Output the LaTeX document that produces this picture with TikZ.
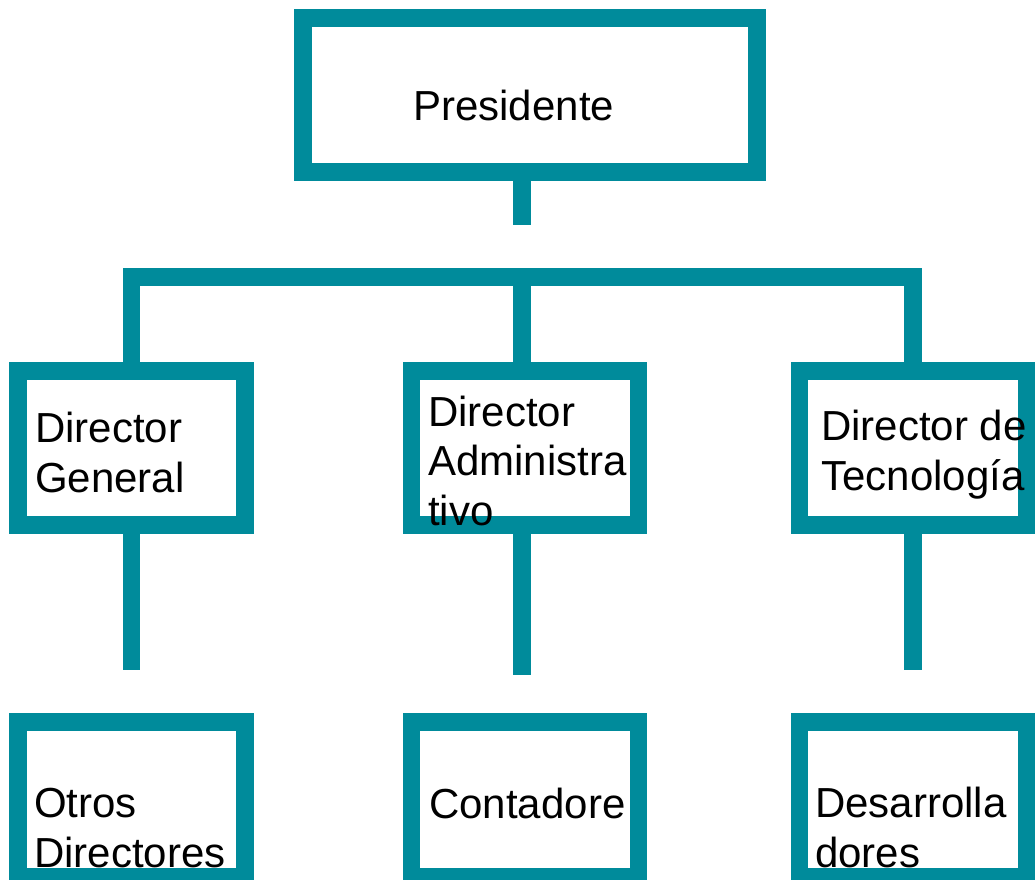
\documentclass[tikz,border=0pt]{standalone}
\usepackage{fontspec}
\setmainfont{Liberation Sans}
\definecolor{tealline}{RGB}{0,139,155}
\tikzset{
  box/.style={draw=tealline, line width=13.1pt, rectangle, inner sep=0pt, minimum width=170pt, minimum height=115.5pt},
  link/.style={draw=tealline, line width=13.1pt, line cap=butt, line join=miter},
  lbl/.style={anchor=base west, inner sep=0pt, align=left, font=\fontsize{31.5}{37}\selectfont}
}
\begin{document}
\begin{tikzpicture}[x=0.75pt,y=0.75pt,yscale=-1,xscale=1]
        \useasboundingbox (0,0) rectangle (1036,879);

        %Shape: Rectangle
        \node[box, minimum width=340.5pt] (pres) at (530,95) {};
        %Shape: Rectangle
        \node[box] (dirG) at (131.5,448) {};
        \node[box] (dirA) at (525,448) {};
        \node[box] (dirT) at (913,448) {};
        %Shape: Rectangle
        \node[box, minimum height=116.25pt] (otros) at (131.5,799.5) {};
        \node[box, minimum height=116.25pt] (cont) at (525,799.5) {};
        \node[box, minimum height=116.25pt] (desa) at (913,799.5) {};

        %Straight Lines
        \coordinate (presEnd) at (522,225);
        \coordinate (bus) at (522,277);
        \draw[link] (pres.south -| presEnd) -- (presEnd);
        \draw[link] (dirG.north) |- (bus) -| (dirT.north);
        \draw[link] (bus) -- (bus |- dirA.north);
        %Straight Lines
        \coordinate (dirGEnd) at (131.5,670);
        \coordinate (dirAEnd) at (522,675);
        \coordinate (dirTEnd) at (913,670);
        \draw[link] (dirG.south) -- (dirGEnd);
        \draw[link] (dirA.south -| dirAEnd) -- (dirAEnd);
        \draw[link] (dirT.south) -- (dirTEnd);

        % Text Node (base = last line)
        \node[lbl] (presTxt) at (413,120) {Presidente};
        \node[lbl] (dirGTxt) at (35,492) {Director\\General};
        \node[lbl] (dirATxt) at (428,525) {Director\\Administra\\tivo};
        \node[lbl] (dirTTxt) at (821,490) {Director de\\Tecnología};
        \node[lbl] (otrosTxt) at (34,867) {Otros\\Directores};
        \node[lbl] (contTxt) at (429,818) {Contadore};
        \node[lbl] (desaTxt) at (815,867) {Desarrolla\\dores};
\end{tikzpicture}
\end{document}
